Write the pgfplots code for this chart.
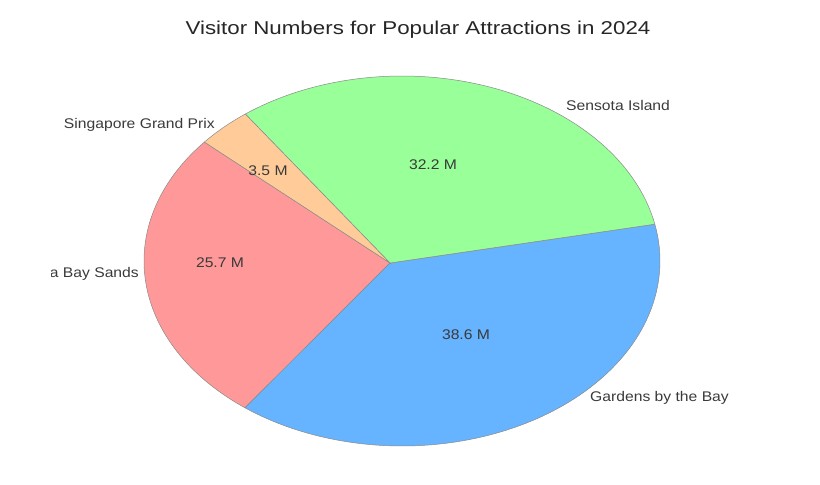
\documentclass[border=0pt]{standalone}
\usepackage{fontspec}
\setmainfont{Liberation Sans}
\usepackage{pgfplots}
\pgfplotsset{compat=1.18}
\definecolor{cRed}{HTML}{FF9999}
\definecolor{cBlue}{HTML}{66B3FF}
\definecolor{cGreen}{HTML}{99FF99}
\definecolor{cOrange}{HTML}{FFCC99}
\definecolor{edge}{HTML}{8A8A8A}
\definecolor{txt}{HTML}{3A3A3A}
% values (million visitors)
\def\vMBS{25.7}
\def\vGBB{38.6}
\def\vSEN{32.2}
\def\vSGP{3.5}
\pgfmathsetmacro\aA{140}
\pgfmathsetmacro\aB{\aA+3.6*\vMBS}
\pgfmathsetmacro\aC{\aB+3.6*\vGBB}
\pgfmathsetmacro\aD{\aC+3.6*\vSEN}
\pgfmathsetmacro\aE{\aD+3.6*\vSGP}
\begin{document}%
\begin{tikzpicture}
\begin{axis}[hide axis, scale only axis, width=820bp, height=485bp,
  xmin=0, xmax=820, ymin=0, ymax=485, clip=false]
\filldraw[fill=cRed, draw=edge, line width=0.5bp] (390,222) -- plot[domain=\aA:\aB, samples=80, variable=\t] ({402+258*cos(\t)},{224+185*sin(\t)}) -- cycle;
\filldraw[fill=cBlue, draw=edge, line width=0.5bp] (390,222) -- plot[domain=\aB:\aC, samples=80, variable=\t] ({402+258*cos(\t)},{224+185*sin(\t)}) -- cycle;
\filldraw[fill=cGreen, draw=edge, line width=0.5bp] (390,222) -- plot[domain=\aC:\aD, samples=80, variable=\t] ({402+258*cos(\t)},{224+185*sin(\t)}) -- cycle;
\filldraw[fill=cOrange, draw=edge, line width=0.5bp] (390,222) -- plot[domain=\aD:\aE, samples=20, variable=\t] ({402+258*cos(\t)},{224+185*sin(\t)}) -- cycle;
% category labels
\begin{scope}
\clip (51,0) rectangle (820,485);
\node[font=\fontsize{14bp}{16bp}\selectfont, text=txt, xscale=1.12, anchor=east, inner sep=0pt] at (139,211) {Marina Bay Sands};
\end{scope}
\node[font=\fontsize{14bp}{16bp}\selectfont, text=txt, xscale=1.12, anchor=west, inner sep=0pt] at (590,87) {Gardens by the Bay};
\node[font=\fontsize{14bp}{16bp}\selectfont, text=txt, xscale=1.12, anchor=west, inner sep=0pt] at (566,379) {Sensota Island};
\node[font=\fontsize{14bp}{16bp}\selectfont, text=txt, xscale=1.12, anchor=east, inner sep=0pt] at (215,360) {Singapore Grand Prix};
% value labels
\node[font=\fontsize{14bp}{16bp}\selectfont, text=txt, xscale=1.12, inner sep=0pt] at (220,222) {\vMBS\ M};
\node[font=\fontsize{14bp}{16bp}\selectfont, text=txt, xscale=1.12, inner sep=0pt] at (466,150) {\vGBB\ M};
\node[font=\fontsize{14bp}{16bp}\selectfont, text=txt, xscale=1.12, inner sep=0pt] at (433,320) {\vSEN\ M};
\node[font=\fontsize{14bp}{16bp}\selectfont, text=txt, xscale=1.12, inner sep=0pt] at (268,314) {\vSGP\ M};
% title
\node[font=\fontsize{18.6bp}{22bp}\selectfont, text=black!85, xscale=1.2, inner sep=0pt] at (418,455) {Visitor Numbers for Popular Attractions in 2024};
\end{axis}
\pgfresetboundingbox
\useasboundingbox (0,0) rectangle (820bp,485bp);
\end{tikzpicture}%
\end{document}
